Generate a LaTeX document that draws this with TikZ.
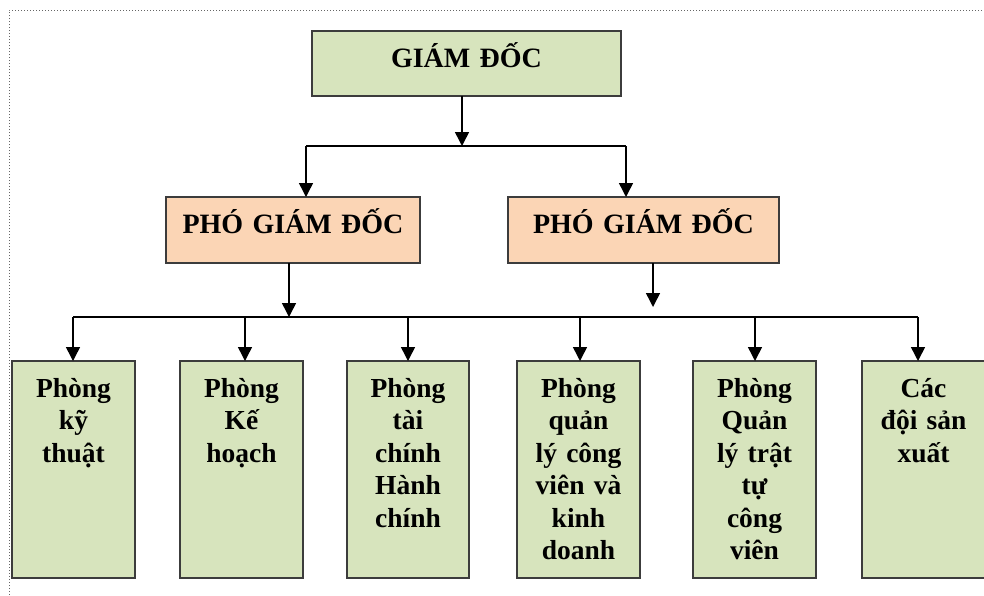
\documentclass[tikz,border=0pt]{standalone}
\usepackage{fontspec}
\setmainfont{Liberation Serif}
\usetikzlibrary{arrows.meta}
\definecolor{boxgreen}{RGB}{215,228,189}
\definecolor{boxpeach}{RGB}{251,213,181}
\definecolor{boxline}{RGB}{60,60,60}
\begin{document}
\begin{tikzpicture}[x=1pt,y=-1pt,
  orgbox/.style={draw=boxline, line width=1.6pt, inner sep=0pt, outer sep=0pt,
    anchor=north west, align=center},
  headbox/.style={orgbox, text height=36pt, font=\bfseries\fontsize{28}{33}\selectfont},
  unitbox/.style={orgbox, fill=boxgreen, text width=123pt, text height=36pt,
    text depth=181pt, font=\bfseries\fontsize{27.5}{32.5}\selectfont},
  link/.style={line width=1.5pt, black},
  arr/.style={link, -{Triangle[width=14pt,length=14pt]}}]
\useasboundingbox (0,0) rectangle (984,595);
% frame of the page
\draw[gray!80!black, dotted, line width=1pt] (9,595) -- (9,10) -- (984,10);

% boxes
\node[headbox, fill=boxgreen, text width=309pt, text depth=29pt] (gd) at (312,31) {GIÁM ĐỐC};
\node[headbox, fill=boxpeach, text width=254pt, text depth=30pt] (pgd1) at (166,197) {PHÓ GIÁM ĐỐC};
\node[headbox, fill=boxpeach, text width=271pt, text depth=30pt] (pgd2) at (508,197) {PHÓ GIÁM ĐỐC};

\node[unitbox] (u1) at (12,361) {Phòng\\kỹ\\thuật};
\node[unitbox] (u2) at (180,361) {Phòng\\Kế\\hoạch};
\node[unitbox, text width=122pt] (u3) at (347,361) {Phòng\\tài\\chính\\Hành\\chính};
\node[unitbox] (u4) at (517,361) {Phòng\\quản\\lý công\\viên và\\kinh\\doanh};
\node[unitbox] (u5) at (693,361) {Phòng\\Quản\\lý trật\\tự\\công\\viên};
\node[unitbox] (u6) at (862,361) {Các\\đội sản\\xuất};

% director to deputies
\coordinate (j0) at (462,146);
\coordinate (jL) at (306,146);
\coordinate (jR) at (626,146);
\draw[arr] (gd.south -| j0) -- (j0);
\draw[link] (jL) -- (jR);
\draw[arr] (jL) -- (jL |- pgd1.north);
\draw[arr] (jR) -- (jR |- pgd2.north);

% deputies to departments
\coordinate (k1) at (289,317);
\coordinate (k2) at (653,307);
\coordinate (bl) at (73,317);
\coordinate (br) at (918,317);
\draw[arr] (pgd1.south -| k1) -- (k1);
\draw[arr] (pgd2.south -| k2) -- (k2);
\draw[link] (bl) -- (br);
\foreach \u/\x in {u1/73, u2/245, u3/408, u4/580, u5/755, u6/918}
  \draw[arr] (\x,317) -- (\u.north -| \x,317);
\end{tikzpicture}
\end{document}
